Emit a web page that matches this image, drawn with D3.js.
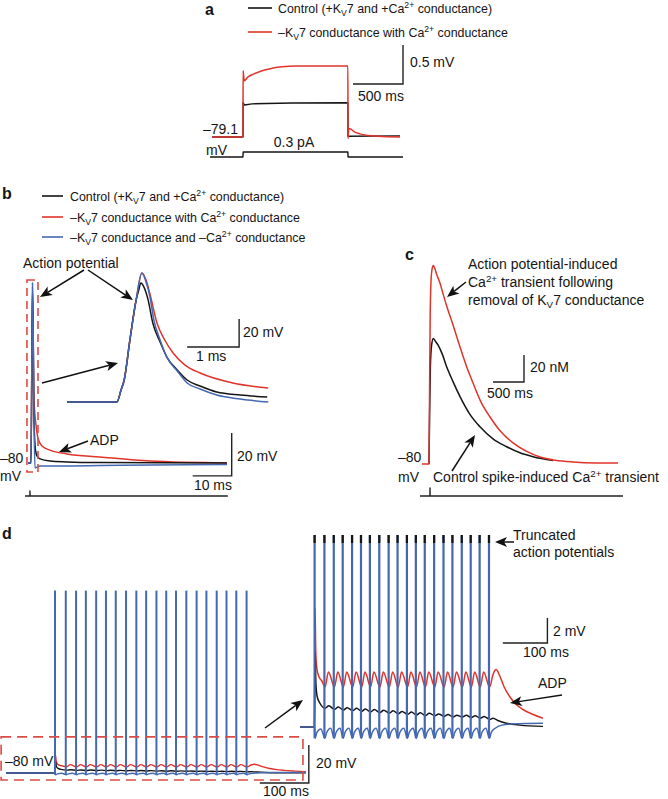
<!DOCTYPE html>
<html><head><meta charset="utf-8">
<script src="https://cdn.jsdelivr.net/npm/d3@7"></script>
<style>
body{margin:0;background:#fff}
svg{display:block}
text{font-family:"Liberation Sans",Arial,Helvetica,sans-serif;fill:#151515}
</style>
</head><body><script>
// ---------- colours ----------
const RED = "#e0342b", BLACK = "#151515", BLUE = "#4468b2", DASHRED = "#dc4b44", INK = "#222";

// ---------- legend / labels ----------
const legendA = ["Control (+K_{V}7 and +Ca^{2+} conductance)", "–K_{V}7 conductance with Ca^{2+} conductance"];
const legendB = ["Control (+K_{V}7 and +Ca^{2+} conductance)", "–K_{V}7 conductance with Ca^{2+} conductance", "–K_{V}7 conductance and –Ca^{2+} conductance"];

// ---------- panel a : [time ms, mV] ----------
const aControl = [[0,-79.1],[310,-79.1],[311,-78.66],[325,-78.69],[400,-78.675],[800,-78.665],[1359,-78.66],[1360,-79.09],[1880,-79.085]];
const aNoKv7 = [[0,-79.1],[310,-79.1],[311,-78.25],[322,-78.38],[360,-78.33],[420,-78.29],[500,-78.25],[600,-78.22],[700,-78.2],[850,-78.19],[1359,-78.19],[1360,-79.12],[1368,-78.99],[1390,-79.0],[1420,-79.03],[1480,-79.06],[1560,-79.08],[1660,-79.09],[1880,-79.1]];
const aCurrent = [[-20,0],[309,0],[312,0.3],[1358,0.3],[1361,0],[1910,0]]; // pA

// ---------- panel b main : [time ms, mV] ----------
const bControl = [[0.77,-80],[1.54,-80],[1.92,2],[2.31,-60],[2.69,-74],[3.08,-76.7],[3.85,-78.1],[6.41,-79.1],[10.8,-79.5],[19.2,-79.8],[51.8,-80]];
const bNoKv7 = [[0.77,-80],[1.54,-80],[1.92,4],[2.31,-50.7],[2.82,-62.3],[3.33,-68.4],[4.36,-72.1],[6.41,-74],[10.8,-75.8],[19.2,-77.2],[32.1,-79.1],[51.8,-80]];
const bNoKv7NoCa = [[0.77,-80],[1.54,-80],[1.92,4],[2.31,-60],[2.56,-82.3],[3.08,-81.9],[3.85,-81.4],[9,-81.4],[19.2,-81.2],[32.1,-80.9],[51.8,-80.7]];
const bStim = [[0,0],[1.27,0],[1.28,1],[1.29,0],[52,0]];
// ---------- panel b inset ----------
const biControl = [[0,-80],[0.96,-80],[1.04,-71.4],[1.10,-64.3],[1.21,-35.7],[1.33,-7.1],[1.38,0],[1.42,5],[1.48,2.1],[1.56,-7.1],[1.65,-23.6],[1.79,-37.1],[1.92,-47.9],[2.12,-57.1],[2.31,-64.3],[2.56,-68.6],[2.88,-72.9],[3.33,-75],[3.85,-76.4]];
const biNoKv7 = [[0,-80],[0.96,-80],[1.04,-71.4],[1.10,-64.3],[1.21,-35.7],[1.33,-7.1],[1.44,12.1],[1.52,7.1],[1.60,-3.6],[1.73,-23.6],[1.88,-35.7],[2.04,-45],[2.27,-53.6],[2.56,-59.3],[3.19,-66.4],[3.87,-70]];
const biNoKv7NoCa = [[0,-80],[0.96,-80],[1.04,-71.4],[1.10,-64.3],[1.21,-35.7],[1.33,-7.1],[1.44,12.1],[1.52,5.7],[1.60,-5.7],[1.67,-21.4],[1.79,-35.7],[1.92,-47.9],[2.12,-57.9],[2.31,-66.4],[2.56,-70.7],[2.88,-75],[3.33,-77.9],[3.87,-80]];

// ---------- panel c : [time ms, nM above rest] ----------
const cControl = [[113,0],[122,35],[135,72],[155,88],[182,93],[215,91],[260,88],[330,81],[398,72],[500,61],[613,49.9],[770,37],[935,27.6],[1150,18.5],[1366,12.8],[1580,8.3],[1790,5.4],[2113,2.5]];
const cNoKv7 = [[0,0],[113,0],[122,55],[132,110],[148,138],[165,145],[182,147],[205,145],[240,140],[290,134],[340,126],[398,117],[500,103],[613,86.7],[720,72],[823,60],[950,46],[1097,34.8],[1270,24],[1468,15.6],[1680,9.5],[1903,5.2],[2150,2.8],[2435,1.5],[2800,0.8],[3161,0.7]];
const cStim = [[-32,0],[128,0],[129,1],[130,0],[3242,0]];

// ---------- panel d : spike times (ms) and sub-threshold traces [ms, mV] ----------
const dSpikeTimes = [100,122,143,163,184,204,224,245,266,286,307,327,347,368,389,409,430,450,470,491];
const dSpikePeak = 16;
const dNoKv7 = [[0,-80],[99.6,-80],[101,-70.5],[102.5,-73.8],[105,-75.3],[110,-76.0],[116,-76.3],
 [123.5,-76.8],[131,-75.6],[144.5,-76.8],[152,-75.6],[164.5,-76.8],[172,-75.6],[185.5,-76.8],[193,-75.6],
 [205.5,-76.8],[213,-75.6],[225.5,-76.8],[233,-75.6],[246.5,-76.8],[254,-75.6],[267.5,-76.8],[275,-75.6],
 [287.5,-76.8],[295,-75.6],[308.5,-76.8],[316,-75.6],[328.5,-76.8],[336,-75.6],[348.5,-76.8],[356,-75.6],
 [369.5,-76.8],[377,-75.6],[390.5,-76.8],[398,-75.6],[410.5,-76.8],[418,-75.6],[431.5,-76.8],[439,-75.6],
 [451.5,-76.8],[459,-75.6],[471.5,-76.8],[479,-75.6],
 [492.5,-76.8],[500,-75.8],[507,-75.4],[515,-75.9],[525,-76.8],[538,-77.6],[552,-78.2],[567,-78.6],[590,-79.0],[612,-79.3]];
const dControl = [[0,-80],[99.6,-80],[101,-74],[103,-76.6],[106,-77.6],[112,-78.1],
 [123.5,-78.5],[132,-78.3],[144.5,-78.6],[153,-78.4],[164.5,-78.65],[173,-78.45],[185.5,-78.7],[194,-78.5],
 [205.5,-78.75],[214,-78.55],[225.5,-78.8],[234,-78.6],[246.5,-78.85],[255,-78.65],[267.5,-78.9],[276,-78.7],
 [287.5,-78.95],[296,-78.75],[308.5,-79.0],[317,-78.8],[328.5,-79.05],[337,-78.85],[348.5,-79.1],[357,-78.9],
 [369.5,-79.1],[378,-78.95],[390.5,-79.15],[399,-79.0],[410.5,-79.2],[419,-79.05],[431.5,-79.2],[440,-79.05],
 [451.5,-79.25],[460,-79.1],[471.5,-79.3],[480,-79.15],
 [492.5,-79.4],[500,-79.3],[512,-79.5],[530,-79.7],[560,-79.85],[612,-79.95]];
const dNoKv7NoCa = [[0,-80],[99.6,-80],[101.2,-80.9],[105,-80.45],[114,-80.15],
 [123.2,-80.9],[127,-80.45],[136,-80.1],[144.2,-80.9],[148,-80.45],[157,-80.1],[164.2,-80.9],[168,-80.45],[177,-80.1],
 [185.2,-80.9],[189,-80.45],[198,-80.1],[205.2,-80.9],[209,-80.45],[218,-80.1],[225.2,-80.9],[229,-80.45],[238,-80.1],
 [246.2,-80.9],[250,-80.45],[259,-80.1],[267.2,-80.9],[271,-80.45],[280,-80.1],[287.2,-80.9],[291,-80.45],[300,-80.1],
 [308.2,-80.9],[312,-80.45],[321,-80.1],[328.2,-80.9],[332,-80.45],[341,-80.1],[348.2,-80.9],[352,-80.45],[361,-80.1],
 [369.2,-80.9],[373,-80.45],[382,-80.1],[390.2,-80.9],[394,-80.45],[403,-80.1],[410.2,-80.9],[414,-80.45],[423,-80.1],
 [431.2,-80.9],[435,-80.45],[444,-80.1],[451.2,-80.9],[455,-80.45],[464,-80.1],[471.2,-80.9],[475,-80.45],[484,-80.1],
 [492.2,-80.9],[496,-80.45],[505,-80.1],[520,-79.85],[545,-79.75],[612,-79.7]];

// ---------- helpers ----------
const W = 668, H = 799;
const svg = d3.select("body").append("svg").attr("width", W).attr("height", H);

function rich(sel, str){
  const parts = str.split(/(_\{[^}]*\}|\^\{[^}]*\})/);
  let off = 0;
  parts.forEach(p => {
    if (!p) return;
    let dy = 0, small = false, t = p;
    if (p.startsWith("_{")) { dy = 3; small = true; t = p.slice(2, -1); }
    else if (p.startsWith("^{")) { dy = -5; small = true; t = p.slice(2, -1); }
    const ts = sel.append("tspan").attr("dy", dy - off).text(t);
    if (small) ts.attr("font-size", "0.7em");
    off = dy;
  });
}
function label(x, y, str, size = 14, anchor = "start", weight = "normal"){
  const t = svg.append("text").attr("x", x).attr("y", y).attr("font-size", size)
    .attr("text-anchor", anchor).attr("font-weight", weight);
  rich(t, str);
  return t;
}
function trace(g, data, xs, ys, color, width = 1.5, curve = d3.curveMonotoneX){
  const line = d3.line().x(d => xs(d[0])).y(d => ys(d[1])).curve(curve);
  return g.append("path").datum(data).attr("d", line).attr("fill", "none")
    .attr("stroke", color).attr("stroke-width", width).attr("stroke-linejoin", "round");
}
function scaleBar(xs, ys, t0, t1, v0, v1){
  svg.append("path").attr("d", `M${xs(t0)},${ys(v0)}H${xs(t1)}V${ys(v1)}`)
    .attr("fill", "none").attr("stroke", INK).attr("stroke-width", 1.4);
}
function arrow(x1, y1, x2, y2){
  const a = Math.atan2(y2 - y1, x2 - x1), L = 12, Wd = 5;
  const c = Math.cos(a), s = Math.sin(a);
  const bx = x2 - L * c, by = y2 - L * s;
  svg.append("line").attr("x1", x1).attr("y1", y1).attr("x2", bx + 3 * c).attr("y2", by + 3 * s)
    .attr("stroke", "#111").attr("stroke-width", 1.5);
  svg.append("path").attr("d",
    `M${x2},${y2}L${bx - Wd * s},${by + Wd * c}L${bx + 3 * c},${by + 3 * s}L${bx + Wd * s},${by - Wd * c}Z`)
    .attr("fill", "#111");
}
function legend(x0, x1, xt, rows, colors, ys, size){
  rows.forEach((r, i) => {
    svg.append("line").attr("x1", x0).attr("x2", x1).attr("y1", ys[i]).attr("y2", ys[i])
      .attr("stroke", colors[i]).attr("stroke-width", 1.6);
    label(xt, ys[i] + 5, r, size);
  });
}

// ================= PANEL A =================
label(205, 15, "a", 16, "start", "bold");
legend(248, 272, 278, legendA, [BLACK, RED], [8, 32], 12.4);
const aX = d3.scaleLinear().domain([0, 1880]).range([212, 400]);
const aY = d3.scaleLinear().domain([-79.1, -78.1]).range([137, 59]);
const aIY = d3.scaleLinear().domain([0, 0.3]).range([157, 152]);
const gA = svg.append("g");
trace(gA, aControl, aX, aY, BLACK, 1.4, d3.curveLinear);
trace(gA, aNoKv7, aX, aY, RED, 1.5, d3.curveMonotoneX);
trace(gA, aCurrent, aX, aIY, BLACK, 1.4, d3.curveLinear);
scaleBar(aX, aY, 1410, 1910, -78.42, -77.92);
label(410, 67, "0.5 mV");
label(358, 101, "500 ms");
label(203, 134, "–79.1");
label(206, 155, "mV");
label(aX(820), 147, "0.3 pA", 14, "middle");

// ================= PANEL B =================
label(2, 199, "b", 16, "start", "bold");
legend(42, 63, 70, legendB, [BLACK, RED, BLUE], [196, 217, 237], 12.4);
label(23, 268, "Action potential");
const bX = d3.scaleLinear().domain([0, 10]).range([25, 64]);
const bY = d3.scaleLinear().domain([-80, -60]).range([463, 420]);
const bSY = d3.scaleLinear().domain([0, 1]).range([496, 491]);
const gB = svg.append("g");
trace(gB, bNoKv7, bX, bY, RED, 1.5);
trace(gB, bControl, bX, bY, BLACK, 1.5);
trace(gB, bNoKv7NoCa, bX, bY, BLUE, 1.5);
trace(gB, bStim, bX, bSY, INK, 1.4, d3.curveLinear);
svg.append("rect").attr("x", bX(0.5)).attr("y", bY(5.1))
  .attr("width", bX(3.33) - bX(0.5)).attr("height", bY(-84.2) - bY(5.1))
  .attr("fill", "none").attr("stroke", DASHRED).attr("stroke-width", 1.6).attr("stroke-dasharray", "8,5");
scaleBar(bX, bY, 43, 53, -86, -66);
label(237, 461, "20 mV");
label(232, 490, "10 ms", 14, "end");
label(0, 463, "–80");
label(0, 481, "mV");
label(90, 445, "ADP");
// inset
const biX = d3.scaleLinear().domain([0, 1]).range([67, 119]);
const biY = d3.scaleLinear().domain([-80, -60]).range([402, 374]);
trace(gB, biNoKv7, biX, biY, RED, 1.5);
trace(gB, biControl, biX, biY, BLACK, 1.5);
trace(gB, biNoKv7NoCa, biX, biY, BLUE, 1.5);
scaleBar(biX, biY, 2.31, 3.31, -40.7, -20.7);
label(243, 337, "20 mV");
label(196, 361, "1 ms");
arrow(84, 270, 40, 297);
arrow(88, 270, 133, 300);
arrow(42, 383, 118, 363);
arrow(88, 441, 59, 452);

// ================= PANEL C =================
label(405, 260, "c", 16, "start", "bold");
const cX = d3.scaleLinear().domain([0, 500]).range([422, 453]);
const cY = d3.scaleLinear().domain([0, 20]).range([464, 437]);
const cSY = d3.scaleLinear().domain([0, 1]).range([496, 488]);
const gC = svg.append("g");
trace(gC, cControl, cX, cY, BLACK, 1.5);
trace(gC, cNoKv7, cX, cY, RED, 1.5);
trace(gC, cStim, cX, cSY, INK, 1.4, d3.curveLinear);
scaleBar(cX, cY, 1145, 1645, 60.7, 80.7);
label(530, 372, "20 nM");
label(487, 398, "500 ms");
label(398, 462, "–80");
label(398, 482, "mV");
label(468, 269, "Action potential-induced");
label(468, 287, "Ca^{2+} transient following");
label(468, 305, "removal of K_{V}7 conductance");
label(433, 482, "Control spike-induced Ca^{2+} transient");
arrow(466, 282, 447, 297);
arrow(452, 471, 475, 435);

// ================= PANEL D =================
label(2, 539, "d", 16, "start", "bold");
const dX = d3.scaleLinear().domain([0, 100]).range([6, 55]);
const dY = d3.scaleLinear().domain([-80, -60]).range([773, 735]);
const gD = svg.append("g");
trace(gD, dNoKv7, dX, dY, RED, 1.4);
trace(gD, dControl, dX, dY, BLACK, 1.4);
trace(gD, dNoKv7NoCa, dX, dY, BLUE, 1.4);
gD.selectAll("line.spk").data(dSpikeTimes).join("line").attr("class", "spk")
  .attr("x1", d => dX(d)).attr("x2", d => dX(d)).attr("y1", dY(-80.9)).attr("y2", dY(dSpikePeak))
  .attr("stroke", BLUE).attr("stroke-width", 2);
svg.append("rect").attr("x", dX(-10)).attr("y", dY(-61))
  .attr("width", dX(606) - dX(-10)).attr("height", dY(-83.7) - dY(-61))
  .attr("fill", "none").attr("stroke", DASHRED).attr("stroke-width", 1.6).attr("stroke-dasharray", "10,6");
scaleBar(dX, dY, 518, 618, -85.26, -65.26);
label(316, 768, "20 mV");
label(263, 796, "100 ms");
label(5, 766, "–80 mV");
arrow(265, 728, 303, 700);
// inset
const diX = d3.scaleLinear().domain([0, 100]).range([270, 314.6]);
const diY = d3.scaleLinear().domain([-80, -78]).range([727, 702]);
svg.append("clipPath").attr("id", "dclip").append("rect")
  .attr("x", diX(67)).attr("y", 535).attr("width", diX(612) - diX(67)).attr("height", 230);
const gDi = svg.append("g").attr("clip-path", "url(#dclip)");
trace(gDi, dNoKv7, diX, diY, RED, 1.5);
trace(gDi, dControl, diX, diY, BLACK, 1.5);
trace(gDi, dNoKv7NoCa, diX, diY, BLUE, 1.5);
gDi.selectAll("line.spk").data(dSpikeTimes).join("line").attr("class", "spk")
  .attr("x1", d => diX(d)).attr("x2", d => diX(d)).attr("y1", diY(-80.9)).attr("y2", diY(dSpikePeak))
  .attr("stroke", BLUE).attr("stroke-width", 2.2);
gDi.selectAll("line.tip").data(dSpikeTimes).join("line").attr("class", "tip")
  .attr("x1", d => diX(d)).attr("x2", d => diX(d)).attr("y1", 535).attr("y2", 543)
  .attr("stroke", BLACK).attr("stroke-width", 2.2);
scaleBar(diX, diY, 522, 622, -73.28, -71.28);
label(553, 636, "2 mV");
label(523, 657, "100 ms");
label(538, 688, "ADP");
label(513, 540, "Truncated");
label(513, 557, "action potentials");
arrow(562, 695, 510, 703);
arrow(514, 542, 495, 542);
</script></body></html>
